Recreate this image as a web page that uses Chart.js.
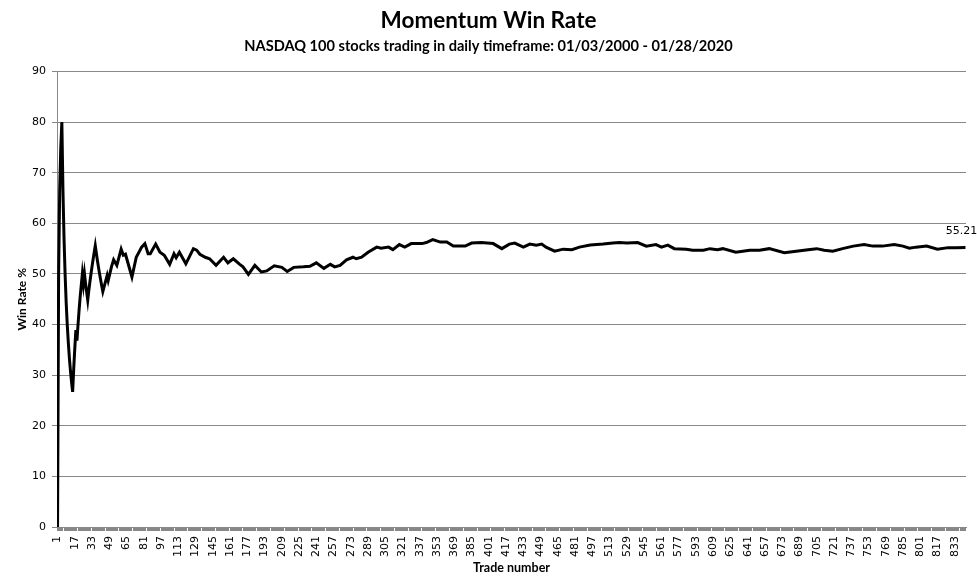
<!DOCTYPE html>
<html>
<head>
<meta charset="utf-8">
<title>Momentum Win Rate</title>
<script src="https://cdn.jsdelivr.net/npm/chart.js@4"></script>
<style>
  body { margin: 0; background: #fff; }
</style>
</head>
<body>
<canvas id="winChart" width="977" height="580"></canvas>
<script>
// Trade number (x) and running win rate % (y)
var trades = [
    1, 2, 3, 4, 5, 6, 7, 8, 9, 10,
    11, 12, 13, 14, 15, 16, 17, 18, 19, 20,
    21, 22, 23, 24, 25, 26, 27, 28, 29, 30,
    31, 32, 33, 34, 35, 36, 37, 38, 39, 40,
    41, 42, 43, 47, 48, 51, 53, 56, 60, 62,
    64, 70, 74, 79, 82, 85, 87, 92, 96, 100,
    105, 109, 111, 114, 120, 127, 130, 133, 138, 142,
    148, 155, 159, 164, 170, 173, 178, 184, 190, 195,
    202, 209, 214, 220, 229, 235, 241, 248, 254, 258,
    263, 269, 275, 278, 283, 289, 297, 301, 308, 312,
    318, 323, 329, 339, 343, 349, 356, 362, 368, 379,
    385, 394, 405, 413, 420, 425, 433, 439, 445, 450,
    454, 462, 470, 478, 485, 495, 507, 516, 522, 529,
    539, 547, 556, 561, 567, 573, 584, 590, 600, 606,
    613, 618, 630, 643, 652, 661, 675, 686, 697, 705,
    712, 720, 729, 739, 749, 757, 766, 777, 785, 791,
    797, 807, 817, 827, 834, 843
];
var winRate = [
    0, 50, 66.7, 75, 80, 66.7, 57.1, 50, 44.4, 40,
    36.4, 33.3, 30.8, 28.6, 26.7, 31.3, 35.3, 38.9, 36.8, 40,
    42.9, 45.5, 47.8, 50, 48, 50, 48.1, 46.4, 44.8, 46.7,
    48.4, 50, 51.5, 52.9, 54.3, 55.6, 54.1, 52.6, 51.3, 50,
    48.8, 47.6, 46.5, 49.7, 48.7, 51.4, 52.8, 51.7, 54.9, 53.7,
    53.9, 49.4, 53.3, 55.3, 56.0, 54.0, 54.0, 55.9, 54.3, 53.7,
    51.9, 54.0, 53.2, 54.3, 52.0, 55.0, 54.7, 53.9, 53.3, 53.0,
    51.7, 53.3, 52.2, 53.0, 51.9, 51.4, 49.9, 51.7, 50.4, 50.6,
    51.6, 51.3, 50.5, 51.3, 51.4, 51.5, 52.2, 51.1, 51.9, 51.4,
    51.7, 52.8, 53.3, 53.0, 53.3, 54.3, 55.3, 55.1, 55.3, 54.8,
    55.8, 55.3, 56.0, 56.0, 56.2, 56.8, 56.3, 56.3, 55.5, 55.5,
    56.1, 56.2, 56.0, 55.0, 55.9, 56.1, 55.3, 55.9, 55.7, 55.9,
    55.3, 54.5, 54.9, 54.8, 55.3, 55.7, 55.9, 56.1, 56.2, 56.1,
    56.2, 55.5, 55.8, 55.3, 55.7, 55.0, 54.9, 54.7, 54.7, 55.0,
    54.8, 55.0, 54.3, 54.7, 54.7, 55.0, 54.2, 54.5, 54.8, 55.0,
    54.7, 54.5, 55.0, 55.5, 55.8, 55.5, 55.5, 55.8, 55.5, 55.1,
    55.3, 55.5, 54.9, 55.2, 55.2, 55.21
];

var tradeCount = 843;
var xTickLabels = ['1', '17', '33', '49', '65', '81', '97', '113', '129', '145', '161', '177',
    '193', '209', '225', '241', '257', '273', '289', '305', '321', '337', '353', '369',
    '385', '401', '417', '433', '449', '465', '481', '497', '513', '529', '545', '561',
    '577', '593', '609', '625', '641', '657', '673', '689', '705', '721', '737', '753',
    '769', '785', '801', '817', '833'];
var yTicks = [0, 10, 20, 30, 40, 50, 60, 70, 80, 90];

var points = trades.map(function (t, i) { return { x: t, y: winRate[i] }; });

// value label over the last point
var lastLabel = {
    id: 'lastLabel',
    afterDatasetsDraw: function (chart) {
        var meta = chart.getDatasetMeta(0);
        var el = meta.data[meta.data.length - 1];
        var ctx = chart.ctx;
        ctx.save();
        ctx.font = '11px "DejaVu Sans"';
        ctx.fillStyle = '#000';
        ctx.textAlign = 'center';
        ctx.textBaseline = 'middle';
        ctx.fillText(winRate[winRate.length - 1].toFixed(2), el.x - 4, el.y - 16);
        ctx.restore();
    }
};

var ctx = document.getElementById('winChart').getContext('2d');
var chart = new Chart(ctx, {
    type: 'line',
    data: {
        datasets: [{
            data: points,
            borderColor: '#000',
            borderWidth: 3,
            pointRadius: 0,
            tension: 0,
            fill: false
        }]
    },
    options: {
        responsive: false,
        animation: false,
        layout: { padding: 0 },
        plugins: {
            legend: { display: false },
            tooltip: { enabled: false },
            title: {
                display: true,
                text: 'Momentum Win Rate',
                color: '#000',
                font: { family: 'Lato', size: 22.5, weight: 'bold' },
                padding: { top: 7, bottom: 0 }
            },
            subtitle: {
                display: true,
                text: 'NASDAQ 100 stocks trading in daily timeframe: 01/03/2000 - 01/28/2020',
                color: '#000',
                font: { family: 'Lato', size: 14.6, weight: 'bold' },
                padding: { top: 4, bottom: 16 }
            }
        },
        scales: {
            x: {
                type: 'linear',
                min: 0.5,
                max: tradeCount + 0.5,
                afterFit: function (scale) {
                    scale.height = 53;
                    scale.paddingLeft = 0;
                    scale.paddingRight = 11;
                },
                afterBuildTicks: function (scale) {
                    var t = [];
                    for (var i = 1; i <= tradeCount; i++) t.push({ value: i });
                    scale.ticks = t;
                },
                grid: {
                    drawOnChartArea: false,
                    color: '#888',
                    tickLength: 4
                },
                border: { color: '#888' },
                ticks: {
                    autoSkip: false,
                    minRotation: 90,
                    maxRotation: 90,
                    padding: 5,
                    color: '#000',
                    font: { family: 'DejaVu Sans', size: 11 },
                    callback: function (v) {
                        var s = String(v);
                        return xTickLabels.indexOf(s) >= 0 ? s : '';
                    }
                },
                title: {
                    display: true,
                    text: 'Trade number',
                    color: '#000',
                    font: { family: 'Lato', size: 12.5, weight: 'bold' },
                    padding: { top: 0, bottom: 5 }
                }
            },
            y: {
                min: yTicks[0],
                max: yTicks[yTicks.length - 1],
                afterFit: function (scale) { scale.width = 57; },
                ticks: {
                    stepSize: 10,
                    padding: 6,
                    color: '#000',
                    font: { family: 'DejaVu Sans', size: 11 }
                },
                grid: {
                    color: '#888',
                    tickLength: 5
                },
                border: { color: '#888' },
                title: {
                    display: true,
                    text: 'Win Rate %',
                    color: '#000',
                    font: { family: 'Lato', size: 12, weight: 'bold' },
                    padding: { top: 15, bottom: 0 }
                }
            }
        }
    },
    plugins: [lastLabel]
});
</script>
</body>
</html>
